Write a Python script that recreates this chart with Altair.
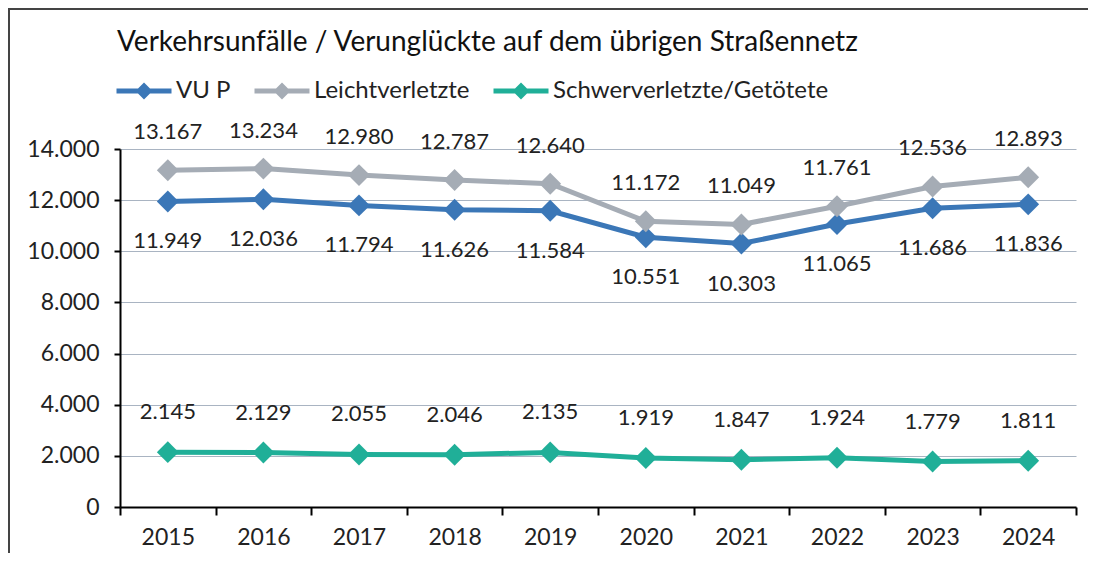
import altair as alt
import pandas as pd

years = ["2015", "2016", "2017", "2018", "2019", "2020", "2021", "2022", "2023", "2024"]
series_names = ["VU P", "Leichtverletzte", "Schwerverletzte/Getötete"]
vu_p = [11949, 12036, 11794, 11626, 11584, 10551, 10303, 11065, 11686, 11836]
leicht = [13167, 13234, 12980, 12787, 12640, 11172, 11049, 11761, 12536, 12893]
schwer = [2145, 2129, 2055, 2046, 2135, 1919, 1847, 1924, 1779, 1811]
colors = ["#3B77B7", "#A5ACB5", "#20AF98"]
y_ticks = [0, 2000, 4000, 6000, 8000, 10000, 12000, 14000]

rows = []
for name, vals in zip(series_names, [vu_p, leicht, schwer]):
    for yr, v in zip(years, vals):
        rows.append({"Jahr": yr, "Serie": name, "Wert": v})
df = pd.DataFrame(rows)

FONT = "Lato"
FS = 22
AFS = 23
W, H = 956, 358

x_enc = alt.X("Jahr:O", sort=years, title=None,
              scale=alt.Scale(paddingInner=0, paddingOuter=0),
              axis=alt.Axis(labelAngle=0, labelFontSize=AFS, labelColor="#222222",
                            labelFont=FONT, domainColor="#000000", domainWidth=2,
                            tickColor="#000000", tickWidth=2, tickSize=8,
                            tickBand="extent", labelPadding=11, grid=False))
y_enc = alt.Y("Wert:Q", title=None,
              scale=alt.Scale(domain=[0, 14000], nice=False),
              axis=alt.Axis(values=y_ticks, labelFontSize=AFS, labelColor="#222222",
                            labelFont=FONT, domainColor="#000000", domainWidth=2,
                            tickColor="#000000", tickWidth=2, tickSize=6,
                            labelPadding=15, gridColor="#A9B4C2", gridWidth=1,
                            labelExpr="replace(format(datum.value, ','), ',', '.')"))
color_enc = alt.Color("Serie:N", sort=series_names,
                      scale=alt.Scale(domain=series_names, range=colors),
                      legend=alt.Legend(title=None, orient="none", legendX=-6, legendY=-88,
                                        direction="horizontal", columns=3,
                                        symbolType="M-1,0L1,0M0,-0.18L0.18,0L0,0.18L-0.18,0Z",
                                        symbolSize=3025, symbolStrokeWidth=5,
                                        labelFontSize=24, labelFont=FONT, labelColor="#222222",
                                        labelOffset=2, columnPadding=13, labelLimit=400))

base = alt.Chart(df)
lines = base.mark_line(strokeWidth=5).encode(x=x_enc, y=y_enc, color=color_enc)
points = base.mark_point(shape="diamond", size=480, filled=True, opacity=1).encode(
    x=x_enc, y=y_enc, color=alt.Color("Serie:N", sort=series_names,
                                      scale=alt.Scale(domain=series_names, range=colors),
                                      legend=None))

def labels(name, dy):
    return base.transform_filter(alt.datum.Serie == name).transform_calculate(
        lab="replace(format(datum.Wert, ','), ',', '.')"
    ).mark_text(fontSize=FS, font=FONT, color="#222222", dy=dy, baseline="middle").encode(
        x=alt.X("Jahr:O", sort=years), y="Wert:Q", text="lab:N")

frame_df = pd.DataFrame({"a": [0]})
frame_top = alt.Chart(frame_df).mark_rule(stroke="#444444", strokeWidth=2).encode(
    x=alt.value(-112), x2=alt.value(980), y=alt.value(-140))
frame_left = alt.Chart(frame_df).mark_rule(stroke="#444444", strokeWidth=2).encode(
    x=alt.value(-111), y=alt.value(-141), y2=alt.value(430))

chart = alt.layer(
    frame_top, frame_left, lines, points,
    labels(series_names[0], 40), labels(series_names[1], -38), labels(series_names[2], -40),
).properties(
    width=W, height=H,
    autosize=alt.AutoSizeParams(type="none"),
    padding={"left": 112, "top": 141, "right": 12, "bottom": 46},
    title=alt.TitleParams("Verkehrsunfälle / Verunglückte auf dem übrigen Straßennetz",
                          anchor="start", font=FONT, fontSize=28, fontWeight="normal",
                          color="#111111", offset=12, dx=110, dy=62),
).configure_view(stroke=None)

chart.save("out.html", embed_options={"renderer": "svg", "actions": False})
